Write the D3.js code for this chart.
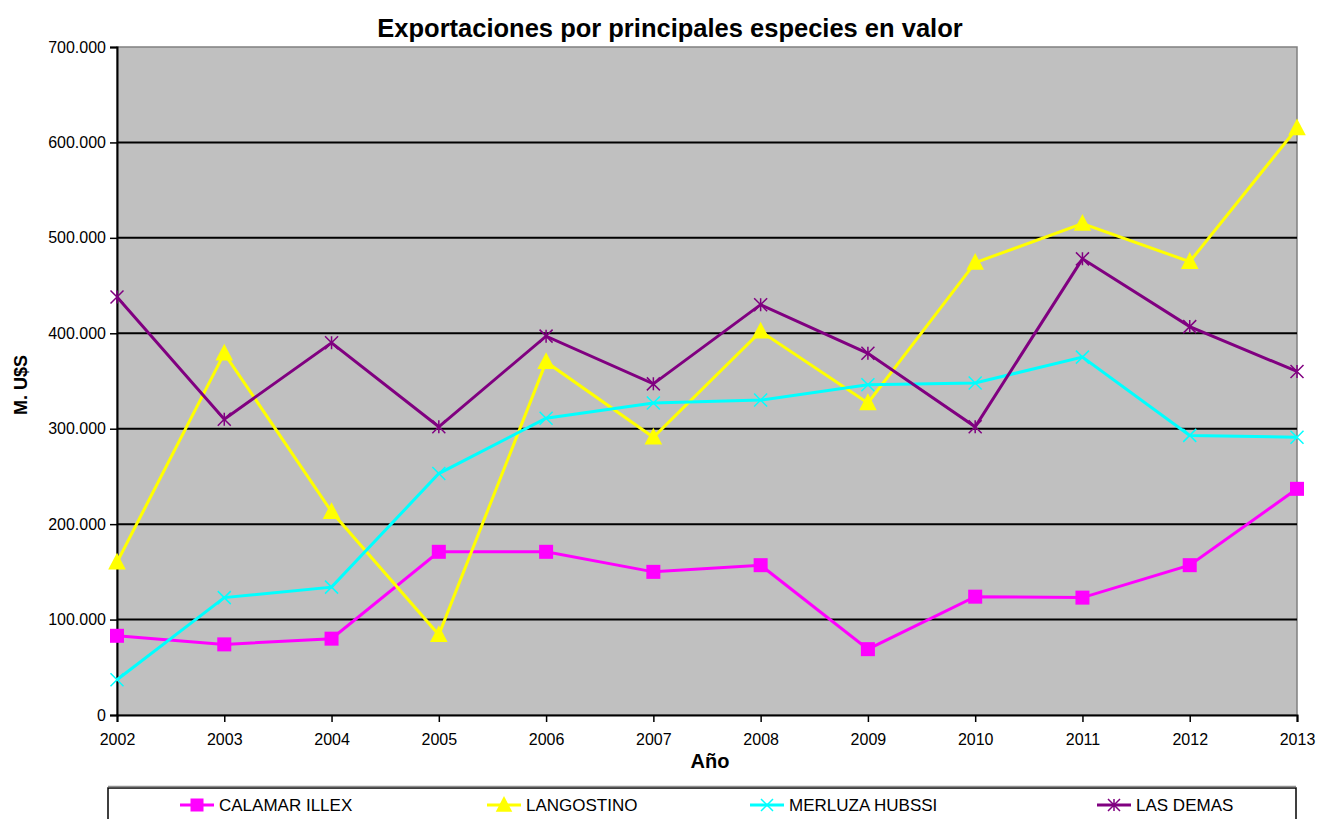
<html>
<head>
<meta charset="UTF-8">
<title>Exportaciones por principales especies en valor</title>
<script src="https://d3js.org/d3.v7.min.js"></script>
<style>
  body { margin: 0; background: #fff; }
  text { font-family: "Liberation Sans", Arial, sans-serif; fill: #000; }
</style>
</head>
<body>
<div id="chart"></div>
<script>
// data (miles de U$S)
var years = [2002, 2003, 2004, 2005, 2006, 2007, 2008, 2009, 2010, 2011, 2012, 2013];
var calamar = [83, 74, 80, 171, 171, 150, 157, 69, 124, 123, 157, 237];
var langostino = [160, 379, 213, 84, 370, 291, 402, 327, 474, 515, 475, 615];
var merluza = [37, 123, 134, 253, 311, 327, 330, 346, 348, 375, 293, 291];
var lasDemas = [438, 310, 390, 302, 397, 347, 430, 379, 302, 478, 407, 360];
var yTicks = [0, 100, 200, 300, 400, 500, 600, 700];

var series = [
  {name: "CALAMAR ILLEX", values: calamar, color: "#FF00FF", marker: "square"},
  {name: "LANGOSTINO", values: langostino, color: "#FFFF00", marker: "triangle"},
  {name: "MERLUZA HUBSSI", values: merluza, color: "#00FFFF", marker: "x"},
  {name: "LAS DEMAS", values: lasDemas, color: "#800080", marker: "star"}
];

var W = 1333, H = 819;
var margin = {top: 47, right: 36, bottom: 104, left: 117};
var width = W - margin.left - margin.right,
    height = H - margin.top - margin.bottom;

var svg = d3.select("#chart").append("svg")
  .attr("width", W)
  .attr("height", H);

var g = svg.append("g")
  .attr("transform", "translate(" + margin.left + "," + margin.top + ")");

var xScale = d3.scalePoint().domain(years).range([0, width]);
var yScale = d3.scaleLinear().domain([0, 700]).range([height, 0]);

// plot area
g.append("rect")
  .attr("width", width).attr("height", height)
  .attr("fill", "#C0C0C0")
  .attr("stroke", "#808080").attr("stroke-width", 1.5);

// gridlines
g.selectAll(".grid").data(yTicks.filter(function(d){ return d > 0 && d < 700; }))
  .enter().append("line")
  .attr("x1", 0).attr("x2", width)
  .attr("y1", function(d){ return yScale(d); })
  .attr("y2", function(d){ return yScale(d); })
  .attr("stroke", "#000").attr("stroke-width", 2);

var fmt = function(d){ return d === 0 ? "0" : d + ".000"; };

var yAxis = d3.axisLeft(yScale).tickValues(yTicks).tickFormat(fmt).tickSize(7).tickPadding(4);
var xAxis = d3.axisBottom(xScale).tickFormat(d3.format("d")).tickSize(7).tickPadding(12);

var gy = g.append("g").call(yAxis);
var gx = g.append("g").attr("transform", "translate(0," + height + ")").call(xAxis);
[gy, gx].forEach(function(a){
  a.selectAll("path").attr("stroke", "#000").attr("stroke-width", 2);
  a.selectAll("line").attr("stroke", "#000").attr("stroke-width", 1.5);
  a.selectAll("text").style("font-size", "16px").attr("font-family", "Liberation Sans, Arial, sans-serif").attr("fill", "#000");
});

// lines
var line = d3.line()
  .x(function(d, i){ return xScale(years[i]); })
  .y(function(d){ return yScale(d); });

function drawMarker(sel, type, color, s) {
  if (type === "square") {
    sel.append("rect").attr("x", -s/2).attr("y", -s/2).attr("width", s).attr("height", s).attr("fill", color);
  } else if (type === "triangle") {
    sel.append("path").attr("d", "M0," + (-s*0.6) + "L" + (s*0.55) + "," + (s*0.45) + "L" + (-s*0.55) + "," + (s*0.45) + "Z").attr("fill", color);
  } else if (type === "x") {
    sel.append("path").attr("d", "M" + (-s/2) + "," + (-s/2) + "L" + (s/2) + "," + (s/2) + "M" + (s/2) + "," + (-s/2) + "L" + (-s/2) + "," + (s/2))
      .attr("stroke", color).attr("stroke-width", 1.5).attr("fill", "none");
  } else {
    sel.append("path").attr("d", "M" + (-s/2) + "," + (-s/2) + "L" + (s/2) + "," + (s/2) + "M" + (s/2) + "," + (-s/2) + "L" + (-s/2) + "," + (s/2) + "M0," + (-s/2) + "L0," + (s/2))
      .attr("stroke", color).attr("stroke-width", 1.5).attr("fill", "none");
  }
}

var msize = {square: 14, triangle: 16, x: 13, star: 13};

series.forEach(function(s){
  g.append("path").datum(s.values)
    .attr("d", line)
    .attr("fill", "none")
    .attr("stroke", s.color)
    .attr("stroke-width", 3);
  g.selectAll(null).data(s.values).enter().append("g")
    .attr("transform", function(d, i){ return "translate(" + xScale(years[i]) + "," + yScale(d) + ")"; })
    .each(function(){ drawMarker(d3.select(this), s.marker, s.color, msize[s.marker]); });
});

// title
svg.append("text")
  .attr("x", 670).attr("y", 37)
  .attr("text-anchor", "middle")
  .style("font-size", "25.5px").style("font-weight", "bold")
  .text("Exportaciones por principales especies en valor");

// axis titles
svg.append("text")
  .attr("transform", "translate(27," + (margin.top + height/2 + 4) + ") rotate(-90)")
  .attr("text-anchor", "middle")
  .style("font-size", "18px").style("font-weight", "bold")
  .text("M. U$S");

svg.append("text")
  .attr("x", 710).attr("y", 768)
  .attr("text-anchor", "middle")
  .style("font-size", "20px").style("font-weight", "bold")
  .text("Año");

// legend
var legend = svg.append("g");
legend.append("rect")
  .attr("x", 108).attr("y", 788).attr("width", 1188).attr("height", 40)
  .attr("fill", "#fff").attr("stroke", "#000").attr("stroke-width", 1.5);
legend.append("line")
  .attr("x1", 108).attr("x2", 1296).attr("y1", 786.5).attr("y2", 786.5)
  .attr("stroke", "#909090").attr("stroke-width", 1.5);

var legendX = [180, 487, 750, 1097];
series.forEach(function(s, i){
  var lg = legend.append("g").attr("transform", "translate(" + legendX[i] + ",805)");
  lg.append("line").attr("x1", 0).attr("x2", 34).attr("y1", 0).attr("y2", 0)
    .attr("stroke", s.color).attr("stroke-width", 3);
  var m = lg.append("g").attr("transform", "translate(17,0)");
  drawMarker(m, s.marker, s.color, msize[s.marker] - 1);
  lg.append("text").attr("x", 39).attr("y", 6)
    .style("font-size", "17px")
    .text(s.name);
});
</script>
</body>
</html>
